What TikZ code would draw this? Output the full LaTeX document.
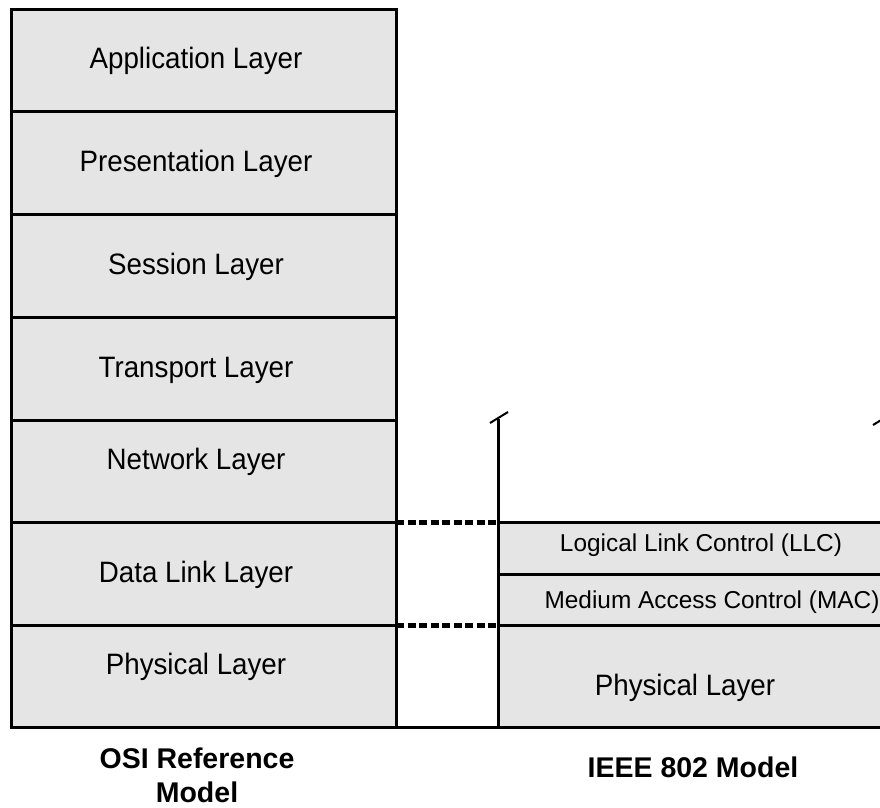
\documentclass[tikz,border=0pt]{standalone}
\usepackage{fontspec}
\setmainfont{Liberation Sans}
\newfontfamily\narrowsans[FakeStretch=0.94]{Liberation Sans}
\begin{document}
\begin{tikzpicture}[x=1pt,y=-1pt,
  layerbox/.style={draw=black,line width=3pt,fill=black!10},
  lbl/.style={anchor=base,inner sep=0pt,text=black,font=\narrowsans\fontsize{29.5}{32}\selectfont},
  sublbl/.style={anchor=base,inner sep=0pt,text=black,font=\fontsize{24.4}{27}\selectfont},
  title/.style={anchor=base,inner sep=0pt,text=black,align=center,font=\fontsize{28.5}{35}\selectfont\bfseries},
  peer/.style={line width=5pt,dash pattern=on 8pt off 3.5pt},
  edge/.style={line width=3pt},
  brk/.style={line width=2pt}]
\useasboundingbox (0,0) rectangle (880,807);

% OSI reference stack
\foreach \n/\t/\b in {app/9/111, pres/111/214, sess/214/317, trans/317/420,
                      net/420/522, dl/522/625, phy/625/727}
  \path[layerbox] (11,\t) rectangle (396,\b) coordinate (\n-se);
\coordinate (osi-dl-ne) at (396,522);
\coordinate (osi-phy-ne) at (396,625);

\node[lbl] (tapp)   at (196,68)  {Application Layer};
\node[lbl] (tpres)  at (196,171) {Presentation Layer};
\node[lbl] (tsess)  at (196,274) {Session Layer};
\node[lbl] (ttrans) at (196,377) {Transport Layer};
\node[lbl] (tnet)   at (196,469) {Network Layer};
\node[lbl] (tdl)    at (196,582) {Data Link Layer};
\node[lbl] (tphy)   at (196,674) {Physical Layer};

% IEEE 802 stack
\path[layerbox] (498,522) rectangle (895,574);
\path[layerbox] (498,574) rectangle (895,625);
\path[layerbox] (498,625) rectangle (895,727);
\coordinate (ieee-llc-nw) at (498,522);
\coordinate (ieee-phy-nw) at (498,625);

\node[sublbl] (tllc) at (701,551) {Logical Link Control (LLC)};
\node[sublbl] (tmac) at (712,608) {Medium Access Control (MAC)};
\node[lbl] (tphy2) at (685,695) {Physical Layer};

% common base line
\coordinate (baseL) at (9.5,727);
\coordinate (baseR) at (880,727);
\draw[edge] (baseL) -- (baseR);

% vertical boundaries of the 802 stack with break marks
\coordinate (lvtop) at (498,419);
\coordinate (lvbot) at (498,727);
\draw[edge] (lvtop) -- (lvbot);
\coordinate (lbrkA) at (490,423);
\coordinate (lbrkB) at (508,412);
\draw[brk] (lbrkA) -- (lbrkB);
\coordinate (rvtop) at (882,419);
\coordinate (rvbot) at (882,727);
\draw[edge] (rvtop) -- (rvbot);
\coordinate (rbrkA) at (873,425);
\coordinate (rbrkB) at (891,414);
\draw[brk] (rbrkA) -- (rbrkB);

% layer correspondence
\draw[peer] (osi-dl-ne) -- (ieee-llc-nw);
\draw[peer] (osi-phy-ne) -- (ieee-phy-nw);

% captions
\node[title] (cosi) at (197,768) {OSI Reference};
\node[title] (cosi2) at (197,802) {Model};
\node[title] (cieee) at (693,777) {IEEE 802 Model};
\end{tikzpicture}
\end{document}
